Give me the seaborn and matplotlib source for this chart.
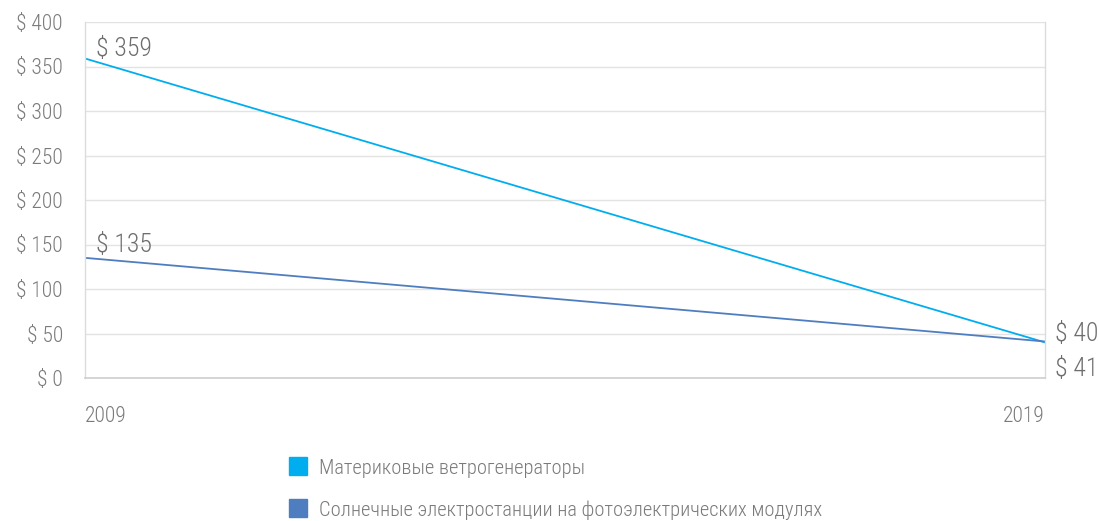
import matplotlib
matplotlib.use("Agg")
import matplotlib.pyplot as plt
import seaborn as sns
import pandas as pd
from matplotlib.lines import Line2D

years = [2009, 2019]
wind = [359, 40]
solar = [135, 41]
series_names = ["Материковые ветрогенераторы",
                "Солнечные электростанции на фотоэлектрических модулях"]
colors = ["#00AEEF", "#4F7EC0"]
yticks = [0, 50, 100, 150, 200, 250, 300, 350, 400]

df = pd.DataFrame({
    "year": years * 2,
    "value": wind + solar,
    "series": [series_names[0]] * 2 + [series_names[1]] * 2,
})

sns.set_theme(style="white")
plt.rcParams['font.family'] = ['Roboto Condensed', 'Roboto', 'DejaVu Sans']
plt.rcParams['font.weight'] = 'light'

fig = plt.figure(figsize=(10.99, 5.21), dpi=100)
ax = fig.add_axes([85/1099, 1-378/521, (1045-85)/1099, (378-22)/521])

sns.lineplot(data=df, x="year", y="value", hue="series", palette=colors,
             linewidth=1.3, ax=ax, legend=False)

ax.set_xlim(years[0], years[-1])
ax.set_ylim(0, 400)
ax.set_yticks(yticks)
ax.set_yticklabels([f"$ {v}" for v in yticks])
ax.set_xticks(years)
ax.set_xticklabels([str(y) for y in years])
tl = ax.get_xticklabels()
tl[0].set_ha("left")
tl[1].set_ha("right")
ax.tick_params(axis="both", length=0, labelsize=15.5, labelcolor="#7a7a7a")
ax.tick_params(axis="y", pad=16)
ax.tick_params(axis="x", pad=20)
ax.set_xlabel("")
ax.set_ylabel("")
ax.grid(axis="y", color="#e3e3e3", linewidth=1)
for s in ["left", "right"]:
    ax.spines[s].set_color("#dcdcdc")
    ax.spines[s].set_linewidth(1)
ax.spines["top"].set_visible(False)
ax.spines["bottom"].set_color("#d0d0d0")

ann_kw = dict(fontsize=18.5, color="#6e6e6e", textcoords="offset points")
ax.annotate(f"$ {wind[0]}", (years[0], wind[0]), xytext=(8, 1.5), ha="left", va="baseline", **ann_kw)
ax.annotate(f"$ {solar[0]}", (years[0], solar[0]), xytext=(8, 4), ha="left", va="baseline", **ann_kw)
ax.annotate(f"$ {wind[1]}", (years[1], wind[1]), xytext=(7, 6), ha="left", va="center", **ann_kw)
ax.annotate(f"$ {solar[1]}", (years[1], solar[1]), xytext=(7, -19.5), ha="left", va="center", **ann_kw)

handles = [Line2D([0], [0], marker="s", linestyle="", markersize=12.5,
                  markerfacecolor=c, markeredgecolor=c) for c in colors]
leg = fig.legend(handles, series_names, loc="upper left",
                 bbox_to_anchor=(269/1099, 1-440/521), frameon=False,
                 fontsize=14.8, labelspacing=1.1, handletextpad=0.55,
                 handlelength=1.0)
for t in leg.get_texts():
    t.set_color("#7a7a7a")

fig.savefig("out.png", dpi=100)
